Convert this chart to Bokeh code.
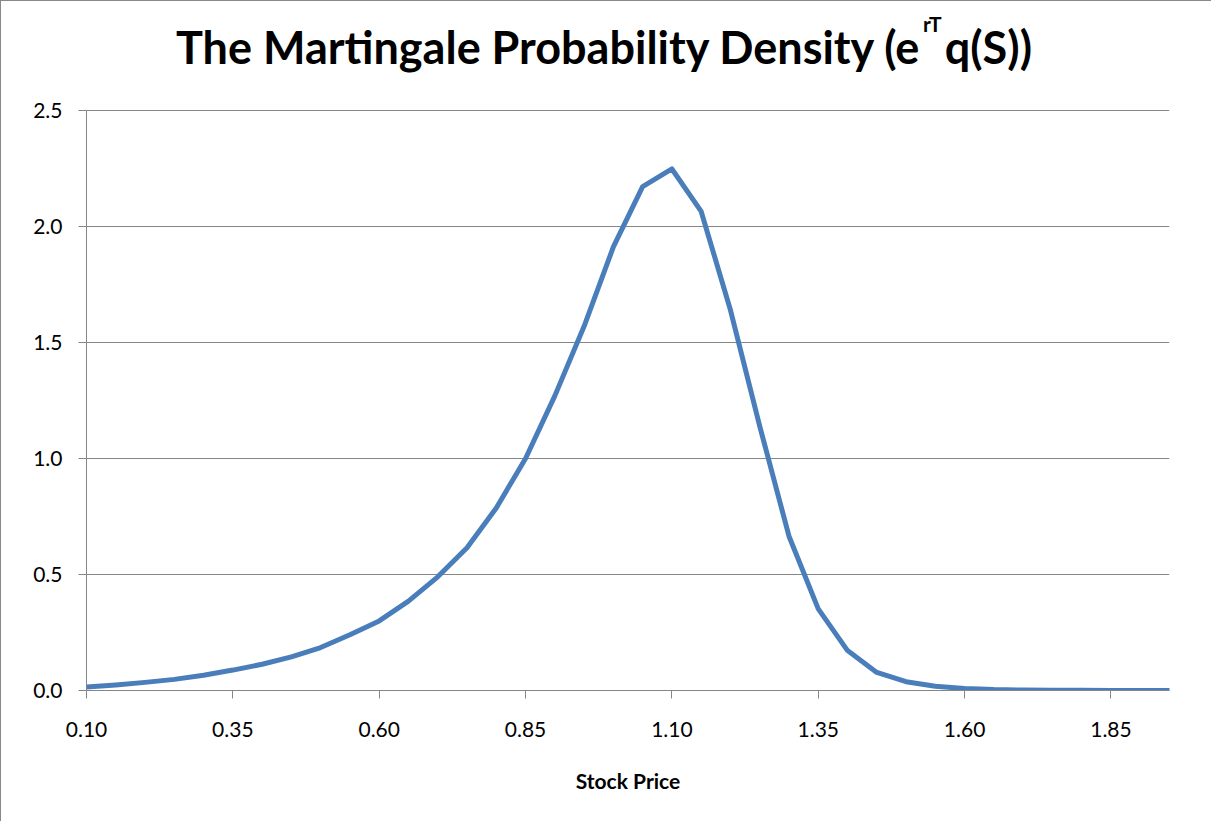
from bokeh.plotting import figure
from bokeh.models import Range1d, FixedTicker, Label
from bokeh.embed import file_html
from bokeh.resources import INLINE

# ---- data ----
stock_price = [0.10, 0.15, 0.20, 0.25, 0.30, 0.35, 0.40, 0.45, 0.50, 0.55,
               0.60, 0.65, 0.70, 0.75, 0.80, 0.85, 0.90, 0.95, 1.00, 1.05,
               1.10, 1.15, 1.20, 1.25, 1.30, 1.35, 1.40, 1.45, 1.50, 1.55,
               1.60, 1.65, 1.70, 1.75, 1.80, 1.85, 1.90, 1.95]
density = [0.015, 0.024, 0.035, 0.048, 0.066, 0.088, 0.113, 0.145, 0.185, 0.240,
           0.300, 0.385, 0.490, 0.615, 0.787, 1.000, 1.270, 1.570, 1.912, 2.172,
           2.248, 2.065, 1.640, 1.140, 0.665, 0.352, 0.172, 0.078, 0.038, 0.018,
           0.009, 0.004, 0.002, 0.001, 0.0006, 0.0003, 0.0002, 0.0001]
x_ticks = [0.10, 0.35, 0.60, 0.85, 1.10, 1.35, 1.60, 1.85]
x_tick_labels = ["0.10", "0.35", "0.60", "0.85", "1.10", "1.35", "1.60", "1.85"]
y_ticks = [0.0, 0.5, 1.0, 1.5, 2.0, 2.5]
y_tick_labels = ["0.0", "0.5", "1.0", "1.5", "2.0", "2.5"]
title_main = "The Martingale Probability Density (e"
title_sup = "rT"
title_end = "q(S))"
x_label = "Stock Price"

GRAY = "#868686"
BLUE = "#4A7EBB"

# frame spans from top of figure down to the 0 line (232 px per unit)
Y_TOP = 689 / 232.0

p = figure(width=1211, height=821, output_backend="svg", toolbar_location=None,
           x_range=Range1d(0.10, 1.95), y_range=Range1d(0.0, Y_TOP),
           min_border_left=85, min_border_right=43, min_border_top=0,
           min_border_bottom=132)
p.styles = {"border-left": "1px solid #888888", "border-top": "1px solid #888888"}
p.background_fill_color = "white"
p.border_fill_color = "white"
p.outline_line_color = None

p.line(stock_price, density, line_color=BLUE, line_width=5,
       line_join="round", line_cap="round")

# axes
for ax in (p.xaxis[0], p.yaxis[0]):
    ax.axis_line_color = GRAY
    ax.major_tick_line_color = GRAY
    ax.major_tick_out = 8
    ax.major_tick_in = 0
    ax.minor_tick_line_color = None
    ax.major_label_text_font = "Lato"
    ax.major_label_text_font_size = "21px"
    ax.major_label_text_color = "black"

p.xaxis.ticker = FixedTicker(ticks=x_ticks)
p.xaxis.major_label_overrides = {t: l for t, l in zip(x_ticks, x_tick_labels)}
p.xaxis.major_label_standoff = 23
p.xaxis.axis_label = x_label
p.xaxis.axis_label_text_font = "Lato"
p.xaxis.axis_label_text_font_style = "bold"
p.xaxis.axis_label_text_font_size = "21px"
p.xaxis.axis_label_text_color = "black"
p.xaxis.axis_label_standoff = 28

p.yaxis.ticker = FixedTicker(ticks=y_ticks)
p.yaxis.bounds = (0.0, 2.5)
p.yaxis.major_label_overrides = {t: l for t, l in zip(y_ticks, y_tick_labels)}
p.yaxis.major_label_standoff = 16

p.xgrid.grid_line_color = None
p.ygrid.ticker = FixedTicker(ticks=y_ticks)
p.ygrid.grid_line_color = GRAY
p.ygrid.grid_line_width = 1

# title made of pieces (superscript)
p.add_layout(Label(x=1.5263, y=2.7716, text=title_main, text_font="Lato",
                   text_font_style="bold", text_font_size="45px",
                   text_color="black", text_align="right",
                   text_baseline="alphabetic"))
p.add_layout(Label(x=1.5290, y=2.877, text=title_sup, text_font="Lato",
                   text_font_style="bold", text_font_size="21px",
                   text_color="black", text_align="left",
                   text_baseline="alphabetic"))
p.add_layout(Label(x=1.5660, y=2.7716, text=title_end, text_font="Lato",
                   text_font_style="bold", text_font_size="45px",
                   text_color="black", text_align="left",
                   text_baseline="alphabetic"))

open("out.html", "w").write(file_html(p, INLINE))
